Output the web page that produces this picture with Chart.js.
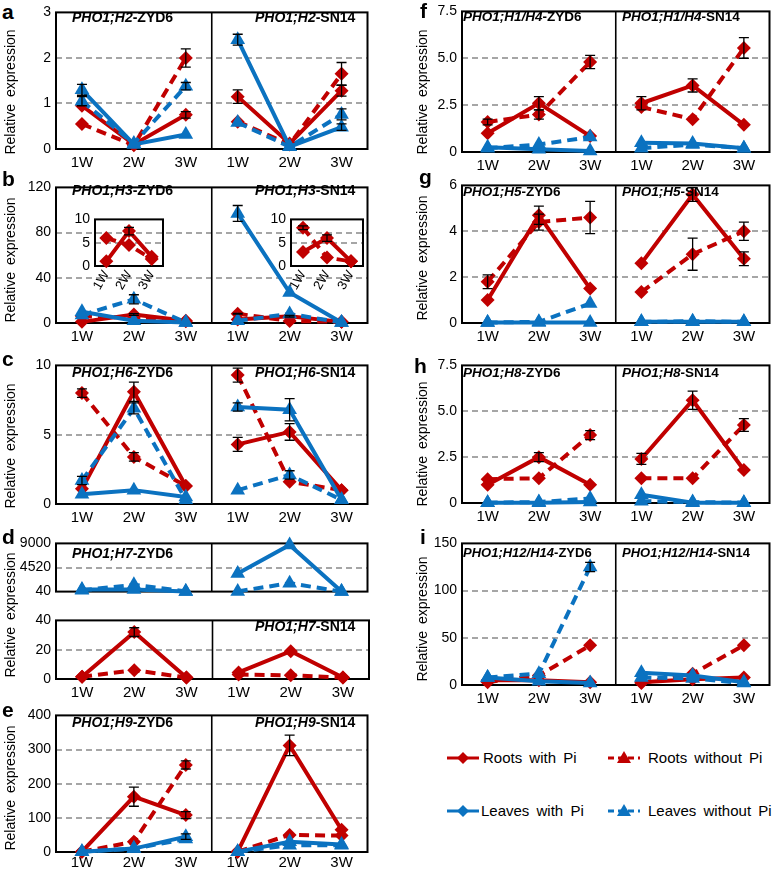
<!DOCTYPE html>
<html>
<head>
<meta charset="utf-8">
<script src="https://cdn.jsdelivr.net/npm/chart.js@4.4.1/dist/chart.umd.min.js"></script>
<style>
body { margin: 0; background: #fff; font-family: "Liberation Sans", Arial, sans-serif; color: #000; }
#fig { position: relative; width: 778px; height: 874px; overflow: hidden; background: #fff; }
canvas { position: absolute; }
.lt { position: absolute; font-weight: bold; font-size: 21px; line-height: 1; }
.tt { position: absolute; font-weight: bold; font-size: 14px; line-height: 16px; white-space: nowrap; }
.yt { position: absolute; font-size: 14px; white-space: nowrap; word-spacing: 3px; transform: translate(-50%, -50%) rotate(-90deg); }
.lg { position: absolute; font-size: 15px; line-height: 18px; white-space: nowrap; word-spacing: 3px; }
.sym { position: absolute; }
</style>
</head>
<body>
<div id="fig"></div>
<script>
// Semanas y cultivares
const weeks = ['1W', '2W', '3W'];
const cultivars = ['ZYD6', 'SN14'];

// valores: ZYD6 1W,2W,3W | SN14 1W,2W,3W
// a  PHO1;H2
const aRootsPi       = [0.95, 0.10, 0.75, 1.15, 0.12, 1.28];
const aRootsPiErr    = [0, 0, 0.07, 0.15, 0, 0.12];
const aRootsNoPi     = [0.55, 0.08, 2.00, 0.60, 0.10, 1.65];
const aRootsNoPiErr  = [0, 0, 0.20, 0, 0, 0.25];
const aLeavesPi      = [1.30, 0.10, 0.32, 2.40, 0.05, 0.48];
const aLeavesPiErr   = [0.12, 0, 0, 0.12, 0, 0.07];
const aLeavesNoPi    = [1.05, 0.12, 1.38, 0.58, 0.05, 0.76];
const aLeavesNoPiErr = [0.10, 0, 0.08, 0, 0, 0.12];
const aTicks = [0, 1, 2, 3];

// b  PHO1;H3
const bRootsPi       = [1.0, 7.5, 2.0, 3.0, 6.0, 1.0];
const bRootsPiErr    = [0, 0.8, 0, 0, 0.7, 0];
const bRootsNoPi     = [6.0, 4.5, 1.5, 8.2, 1.8, 1.0];
const bRootsNoPiErr  = [0, 0, 0, 0.4, 0, 0];
const bLeavesPi      = [10, 2, 0.5, 97, 27, 0.5];
const bLeavesPiErr   = [0, 0, 0, 7, 0, 0];
const bLeavesNoPi    = [7, 21, 0.5, 2, 8, 0.5];
const bLeavesNoPiErr = [0, 4, 0, 0, 0, 0];
const bTicks = [0, 40, 80, 120];
const bInsetTicks = [0, 5, 10];

// c  PHO1;H6
const cRootsPi       = [1.1, 8.1, 1.3, 4.3, 5.2, 1.0];
const cRootsPiErr    = [0, 0.7, 0, 0.5, 0.6, 0];
const cRootsNoPi     = [8.0, 3.4, 1.3, 9.3, 1.6, 1.0];
const cRootsNoPiErr  = [0.3, 0.3, 0, 0.5, 0, 0];
const cLeavesPi      = [0.7, 1.0, 0.5, 7.0, 6.8, 0.3];
const cLeavesPiErr   = [0, 0, 0, 0.3, 0.8, 0];
const cLeavesNoPi    = [1.7, 6.9, 0.3, 1.0, 2.1, 0.3];
const cLeavesNoPiErr = [0.3, 0.4, 0, 0, 0.3, 0];
const cTicks = [0, 5, 10];

// d  PHO1;H7 (eje partido)
const dLeavesPi      = [450, 450, 80, 3400, 8700, 40];
const dLeavesNoPi    = [300, 1300, 80, 80, 1600, 40];
const dRootsPi       = [1.5, 32, 1.0, 4.5, 19, 1.0];
const dRootsPiErr    = [0, 3, 0, 0, 0, 0];
const dRootsNoPi     = [1.5, 6.0, 1.0, 3.0, 2.5, 1.0];
const dUpperTicks = [40, 4520, 9000];
const dLowerTicks = [0, 20, 40];

// e  PHO1;H9
const eRootsPi       = [1, 162, 108, 1, 312, 65];
const eRootsPiErr    = [0, 28, 10, 0, 30, 0];
const eRootsNoPi     = [1, 30, 255, 1, 50, 48];
const eRootsNoPiErr  = [0, 0, 12, 0, 0, 0];
const eLeavesPi      = [1, 10, 45, 1, 30, 22];
const eLeavesPiErr   = [0, 0, 8, 0, 0, 0];
const eLeavesNoPi    = [1, 10, 38, 1, 20, 20];
const eTicks = [0, 100, 200, 300, 400];

// f  PHO1;H1/H4
const fRootsPi       = [1.0, 2.6, 0.85, 2.6, 3.55, 1.45];
const fRootsPiErr    = [0, 0.35, 0, 0.35, 0.35, 0];
const fRootsNoPi     = [1.6, 2.0, 4.8, 2.4, 1.75, 5.55];
const fRootsNoPiErr  = [0.15, 0.25, 0.35, 0, 0, 0.55];
const fLeavesPi      = [0.25, 0.15, 0.05, 0.5, 0.45, 0.2];
const fLeavesNoPi    = [0.2, 0.4, 0.8, 0.2, 0.4, 0.2];
const fTicks = [0, 2.5, 5, 7.5];

// g  PHO1;H5
const gRootsPi       = [1.0, 4.7, 1.5, 2.6, 5.6, 2.8];
const gRootsPiErr    = [0, 0.4, 0, 0, 0.3, 0.3];
const gRootsNoPi     = [1.8, 4.4, 4.6, 1.35, 3.0, 4.0];
const gRootsNoPiErr  = [0.3, 0.35, 0.7, 0, 0.7, 0.4];
const gLeavesPi      = [0.02, 0.02, 0.02, 0.05, 0.05, 0.05];
const gLeavesNoPi    = [0.02, 0.05, 0.85, 0.05, 0.08, 0.05];
const gTicks = [0, 2, 4, 6];

// h  PHO1;H8
const hRootsPi       = [1.0, 2.5, 1.0, 2.4, 5.6, 1.8];
const hRootsPiErr    = [0, 0.25, 0, 0.3, 0.5, 0];
const hRootsNoPi     = [1.3, 1.35, 3.7, 1.35, 1.35, 4.25];
const hRootsNoPiErr  = [0, 0, 0.25, 0, 0, 0.35];
const hLeavesPi      = [0.02, 0.02, 0.05, 0.45, 0.02, 0.02];
const hLeavesNoPi    = [0.02, 0.05, 0.25, 0.1, 0.05, 0.02];
const hTicks = [0, 2.5, 5, 7.5];

// i  PHO1;H12/H14
const iRootsPi       = [5, 5, 3, 3, 6, 8];
const iRootsNoPi     = [3, 10, 42, 2, 12, 42];
const iLeavesPi      = [8, 4, 2, 13, 10, 3];
const iLeavesNoPi    = [8, 12, 125, 8, 7, 2];
const iLeavesNoPiErr = [0, 0, 5, 0, 0, 0];
const iTicks = [0, 50, 100, 150];

const RED = '#C00000';
const BLUE = '#0B72C0';
const fig = document.getElementById('fig');

Chart.defaults.font.family = '"Liberation Sans", Arial, sans-serif';
Chart.defaults.color = '#000';

// Marco y divisor entre cultivares
const framePlugin = {
    id: 'frame',
    beforeDatasetsDraw(chart, args, opts) {
        const { ctx, chartArea: ca } = chart;
        ctx.save();
        ctx.strokeStyle = '#000';
        ctx.lineWidth = 2;
        ctx.strokeRect(ca.left, ca.top, ca.right - ca.left, ca.bottom - ca.top);
        if (opts.divider) {
            const x = chart.scales.x.getPixelForValue(2.5);
            ctx.lineWidth = 1.6;
            ctx.beginPath();
            ctx.moveTo(x, ca.top);
            ctx.lineTo(x, ca.bottom);
            ctx.stroke();
        }
        ctx.restore();
    }
};

// Barras de error
const errorPlugin = {
    id: 'errbars',
    afterDatasetsDraw(chart) {
        const { ctx } = chart;
        const y = chart.scales.y;
        ctx.save();
        ctx.strokeStyle = '#000';
        ctx.lineWidth = 1.3;
        chart.data.datasets.forEach((ds, i) => {
            if (!ds.errors) return;
            chart.getDatasetMeta(i).data.forEach((pt, j) => {
                const v = ds.data[j], e = ds.errors[j];
                if (v == null || !e) return;
                const top = y.getPixelForValue(v + e), bot = y.getPixelForValue(v - e);
                ctx.beginPath();
                ctx.moveTo(pt.x, top); ctx.lineTo(pt.x, bot);
                ctx.moveTo(pt.x - 5, top); ctx.lineTo(pt.x + 5, top);
                ctx.moveTo(pt.x - 5, bot); ctx.lineTo(pt.x + 5, bot);
                ctx.stroke();
            });
        });
        ctx.restore();
    }
};

function style(organ, pi) {
    const c = organ === 'roots' ? RED : BLUE;
    return {
        borderColor: c, backgroundColor: c, pointBackgroundColor: c, pointBorderColor: c,
        borderWidth: 4, borderDash: pi ? [] : [10, 6],
        pointStyle: organ === 'roots' ? 'rectRot' : 'triangle',
        pointRadius: organ === 'roots' ? 7 : 8.5, pointBorderWidth: 0,
        clip: 12, spanGaps: false, tension: 0
    };
}

function buildSets(rows, inset) {
    const sets = [];
    rows.forEach(r => {
        if (inset != null) {
            sets.push(Object.assign({
                data: r.v.slice(inset * 3, inset * 3 + 3),
                errors: r.e ? r.e.slice(inset * 3, inset * 3 + 3) : null
            }, style(r.organ, r.pi)));
            return;
        }
        [0, 1].forEach(h => {
            sets.push(Object.assign({
                data: r.v.map((val, k) => (Math.floor(k / 3) === h ? val : null)),
                errors: r.e || null
            }, style(r.organ, r.pi)));
        });
    });
    return sets;
}

function addCanvas(left, top, w, h) {
    const c = document.createElement('canvas');
    c.width = w; c.height = h;
    c.style.left = left + 'px'; c.style.top = top + 'px';
    c.style.width = w + 'px'; c.style.height = h + 'px';
    fig.appendChild(c);
    return c;
}

function panel(box, ticks, rows, o = {}) {
    const [L, T, R, B] = box;
    const yw = o.yw ?? 40, pt = o.pt ?? 10, pr = o.pr ?? 6;
    const showX = o.showX ?? true;
    const xh = o.xh ?? (showX ? 24 : 2);
    const fmt = o.fmt || (v => String(v));
    const inset = o.inset;
    const cats = inset != null ? weeks : weeks.concat(weeks);
    const cv = addCanvas(L - yw, T - pt, R - L + yw + pr, B - T + pt + xh);
    return new Chart(cv, {
        type: 'line',
        data: { labels: cats, datasets: buildSets(rows, inset) },
        options: {
            responsive: false, animation: false, events: [],
            layout: { padding: { left: 0, top: pt, right: pr, bottom: 0 } },
            plugins: { legend: { display: false }, tooltip: { enabled: false }, frame: { divider: inset == null } },
            scales: {
                x: {
                    type: 'category', offset: true,
                    afterFit: s => { s.height = xh; },
                    grid: { display: false, drawTicks: false }, border: { display: false },
                    ticks: {
                        display: showX, autoSkip: false, padding: o.xPad ?? 5, color: '#000',
                        font: { size: o.xFont ?? 15 },
                        minRotation: o.rot ?? 0, maxRotation: o.rot ?? 0
                    }
                },
                y: {
                    min: ticks[0], max: ticks[ticks.length - 1],
                    afterBuildTicks: s => { s.ticks = ticks.map(v => ({ value: v })); },
                    afterFit: s => { s.width = yw; },
                    ticks: { padding: 5, color: '#000', font: { size: o.yFont ?? 14 }, callback: v => fmt(v) },
                    grid: {
                        drawTicks: false, lineWidth: 2,
                        color: c => (c.index > 0 && c.index < ticks.length - 1 ? '#A6A6A6' : 'rgba(0,0,0,0)')
                    },
                    border: { display: false, dash: [6, 4] }
                }
            }
        },
        plugins: [framePlugin, errorPlugin]
    });
}

function rows4(rp, rpe, rn, rne, lp, lpe, ln, lne) {
    // hojas primero para que queden encima
    return [
        { v: ln, e: lne, organ: 'leaves', pi: false },
        { v: lp, e: lpe, organ: 'leaves', pi: true },
        { v: rn, e: rne, organ: 'roots', pi: false },
        { v: rp, e: rpe, organ: 'roots', pi: true }
    ];
}

const dec1 = v => (v === 0 ? '0' : v.toFixed(1));
const LC = [56, 370], RC = [462, 772];

// Columna izquierda
panel([LC[0], 9, LC[1], 149], aTicks, rows4(aRootsPi, aRootsPiErr, aRootsNoPi, aRootsNoPiErr, aLeavesPi, aLeavesPiErr, aLeavesNoPi, aLeavesNoPiErr));
panel([LC[0], 184, LC[1], 323], bTicks, rows4(bRootsPi, bRootsPiErr, bRootsNoPi, bRootsNoPiErr, bLeavesPi, bLeavesPiErr, bLeavesNoPi, bLeavesNoPiErr));
const bInsetRows = [
    { v: bRootsNoPi, e: bRootsNoPiErr, organ: 'roots', pi: false },
    { v: bRootsPi, e: bRootsPiErr, organ: 'roots', pi: true }
];
panel([95, 212, 166, 266], bInsetTicks, bInsetRows, { inset: 0, yw: 24, pt: 6, pr: 4, xh: 30, rot: 60, xFont: 13, xPad: 2 });
panel([291, 212, 366, 266], bInsetTicks, bInsetRows, { inset: 1, yw: 24, pt: 6, pr: 4, xh: 30, rot: 60, xFont: 13, xPad: 2 });
panel([LC[0], 362, LC[1], 504], cTicks, rows4(cRootsPi, cRootsPiErr, cRootsNoPi, cRootsNoPiErr, cLeavesPi, cLeavesPiErr, cLeavesNoPi, cLeavesNoPiErr));
panel([LC[0], 538, LC[1], 603], dUpperTicks, [
    { v: dLeavesNoPi, e: null, organ: 'leaves', pi: false },
    { v: dLeavesPi, e: null, organ: 'leaves', pi: true }
], { showX: false, yw: 46, pt: 8 });
panel([LC[0], 615, LC[1], 679], dLowerTicks, [
    { v: dRootsNoPi, e: null, organ: 'roots', pi: false },
    { v: dRootsPi, e: dRootsPiErr, organ: 'roots', pi: true }
], { pt: 8 });
panel([LC[0], 712, LC[1], 852], eTicks, rows4(eRootsPi, eRootsPiErr, eRootsNoPi, eRootsNoPiErr, eLeavesPi, eLeavesPiErr, eLeavesNoPi, null), { xh: 22, xPad: 2 });

// Columna derecha
panel([RC[0], 8, RC[1], 152], fTicks, rows4(fRootsPi, fRootsPiErr, fRootsNoPi, fRootsNoPiErr, fLeavesPi, null, fLeavesNoPi, null), { fmt: dec1 });
panel([RC[0], 182, RC[1], 323], gTicks, rows4(gRootsPi, gRootsPiErr, gRootsNoPi, gRootsNoPiErr, gLeavesPi, null, gLeavesNoPi, null));
panel([RC[0], 362, RC[1], 503], hTicks, rows4(hRootsPi, hRootsPiErr, hRootsNoPi, hRootsNoPiErr, hLeavesPi, null, hLeavesNoPi, null), { fmt: dec1 });
panel([RC[0], 540, RC[1], 685], iTicks, rows4(iRootsPi, null, iRootsNoPi, null, iLeavesPi, null, iLeavesNoPi, iLeavesNoPiErr));

// Textos
function addDiv(cls, html, left, top, extra) {
    const d = document.createElement('div');
    d.className = cls;
    d.innerHTML = html;
    d.style.left = left + 'px';
    d.style.top = top + 'px';
    if (extra) Object.assign(d.style, extra);
    fig.appendChild(d);
    return d;
}

[['a', 2, 18], ['b', 2, 185], ['c', 2, 365], ['d', 2, 543], ['e', 2, 716],
 ['f', 420, 17], ['g', 419, 183], ['h', 414, 372], ['i', 420, 543]]
    .forEach(([t, x, base]) => addDiv('lt', t, x, base - 17));

[[10, 92], [10, 260], [10, 446], [10, 615], [10, 788],
 [422, 92], [422, 258], [422, 444], [422, 619]]
    .forEach(([x, y]) => addDiv('yt', 'Relative expression', x, y));

const titles = [
    ['H2', 72, 17, [0, 1], 14], ['H3', 72, 190, [0, 1], 14], ['H6', 72, 372, [0, 1], 14],
    ['H7', 72, 553, [0], 14], ['H7', 72, 626, [1], 14], ['H9', 72, 722, [0, 1], 14],
    ['H1/H4', 463, 17, [0, 1], 13.5], ['H5', 463, 192, [0, 1], 13.5],
    ['H8', 463, 373, [0, 1], 13.5], ['H12/H14', 463, 553, [0, 1], 13]
];
titles.forEach(([g, x, y, which, fs]) => {
    const dx = x < 400 ? 183 : 159;
    which.forEach(k => addDiv('tt', '<i>PHO1;' + g + '</i>-' + cultivars[k], x + k * dx, y - 8, { fontSize: fs + 'px' }));
});

// Leyenda
const legendItems = [
    ['Roots with Pi', RED, false, 'diamond', 447, 483, 758],
    ['Roots without Pi', RED, true, 'triangle', 608, 648, 758],
    ['Leaves with Pi', BLUE, false, 'diamond', 447, 481, 811],
    ['Leaves without Pi', BLUE, true, 'triangle', 608, 648, 811]
];
legendItems.forEach(([txt, col, dashed, mk, sx, tx, y]) => {
    const m = mk === 'diamond'
        ? '<polygon points="16,2 22,8 16,14 10,8" fill="' + col + '"/>'
        : '<polygon points="16,1 23,13 9,13" fill="' + col + '"/>';
    const svg = '<svg width="32" height="16" viewBox="0 0 32 16"><line x1="0" y1="8" x2="32" y2="8" stroke="' + col +
        '" stroke-width="3"' + (dashed ? ' stroke-dasharray="6,4"' : '') + '/>' + m + '</svg>';
    addDiv('sym', svg, sx, y - 8);
    addDiv('lg', txt, tx, y - 9);
});
</script>
</body>
</html>
